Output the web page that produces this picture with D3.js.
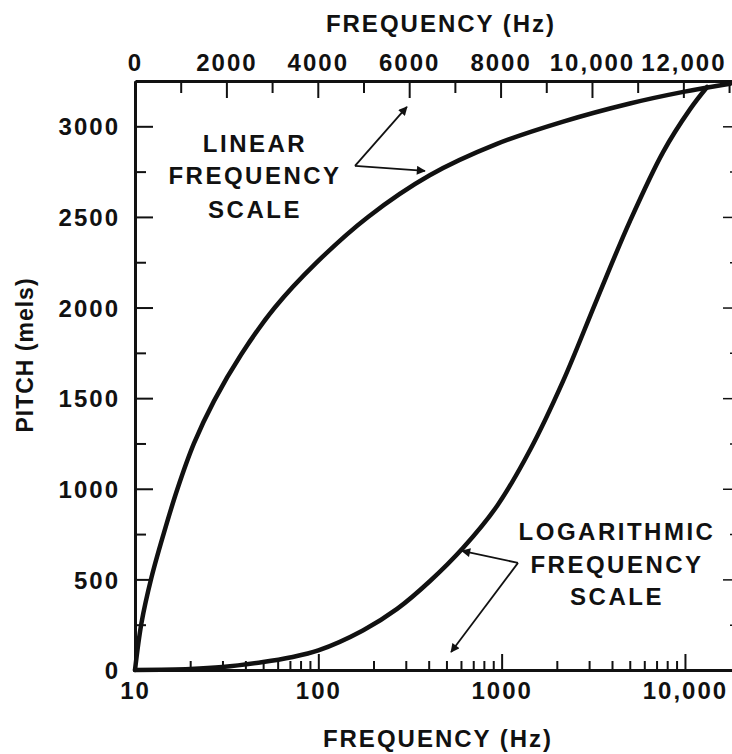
<!DOCTYPE html>
<html>
<head>
<meta charset="utf-8">
<script src="https://cdn.jsdelivr.net/npm/d3@7"></script>
<style>
  html, body { margin: 0; padding: 0; background: #fff; }
  svg { display: block; }
  text { font-family: "Liberation Sans", Arial, Helvetica, sans-serif; font-weight: bold; fill: #111; }
</style>
</head>
<body>
<svg id="chart" width="732" height="754"></svg>
<script>
// Pitch (mels) against frequency, on a linear (top) and a logarithmic (bottom) frequency axis.
const linearCurve = [
  [0, 0], [142, 260], [360, 510], [625, 750], [930, 1000], [1290, 1250],
  [1730, 1485], [2320, 1740], [3060, 2000], [3960, 2245], [5100, 2500],
  [6450, 2730], [7920, 2903], [9370, 3026], [10830, 3126], [12000, 3190], [13020, 3235]
];
const logCurve = [
  [10, 0], [20, 5], [30, 16], [50, 44], [70, 69], [100, 108], [175, 218],
  [269, 337], [407, 491], [615, 673], [944, 905], [1429, 1214], [2163, 1594],
  [3315, 2047], [5012, 2477], [7598, 2858], [10670, 3095], [13210, 3217]
];
const pitchTicks = d3.range(0, 3001, 250);
const pitchLabels = [0, 500, 1000, 1500, 2000, 2500, 3000];
const linearTicks = d3.range(0, 13001, 1000);
const linearLabels = [0, 2000, 4000, 6000, 8000, 10000, 12000];
const logMajor = [10, 100, 1000, 10000];
const logMinor = [20, 30, 40, 50, 60, 70, 80, 90, 200, 300, 400, 500, 600, 700, 800, 900,
                  2000, 3000, 4000, 5000, 6000, 7000, 8000, 9000];
const axisTitle = "FREQUENCY (Hz)";
const pitchTitle = "PITCH (mels)";
const linearNote = ["LINEAR", "FREQUENCY", "SCALE"];
const logNote = ["LOGARITHMIC", "FREQUENCY", "SCALE"];

const svg = d3.select("#chart");
const L = 135, R = 735, T = 81, B = 670;

const y = d3.scaleLinear().domain([0, 3250]).range([B, T]);
const xLin = d3.scaleLinear().domain([0, 13130]).range([L, R]);
const xLog = d3.scaleLog().domain([10, 18750]).range([L, R]);

const fmt = v => v >= 10000 ? d3.format(",")(v) : String(v);

function styleAxis(g, width) {
  g.select(".domain").attr("stroke", "#111").attr("stroke-width", width);
  g.selectAll(".tick line").attr("stroke", "#111").attr("stroke-width", 2);
  g.selectAll(".tick text").attr("font-size", 24).attr("letter-spacing", 2)
    .attr("fill", "#111").attr("font-family", "Liberation Sans, Arial, sans-serif")
    .attr("font-weight", "bold");
}

// left pitch axis, ticks pointing into the plot
const gLeft = svg.append("g").attr("transform", `translate(${L},0)`)
  .call(d3.axisLeft(y).tickValues(pitchTicks).tickSize(-18).tickSizeOuter(0).tickPadding(15)
    .tickFormat(d => pitchLabels.includes(d) ? d : ""));
styleAxis(gLeft, 3);
gLeft.selectAll(".tick line").filter(d => !pitchLabels.includes(d)).attr("x2", 11);
gLeft.selectAll(".tick text").attr("dy", "0.36em");

// right pitch ticks (spine falls just outside the frame)
const gRight = svg.append("g").attr("transform", `translate(${R},0)`)
  .call(d3.axisRight(y).tickValues(pitchTicks).tickSize(-12).tickSizeOuter(0).tickFormat(""));
styleAxis(gRight, 0);
gRight.select(".domain").remove();
gRight.selectAll(".tick line").attr("stroke-width", 1.5)
  .filter(d => !pitchLabels.includes(d)).attr("x2", -5);

// top linear frequency axis
const gTop = svg.append("g").attr("transform", `translate(0,${T})`)
  .call(d3.axisTop(xLin).tickValues(linearTicks).tickSize(-17).tickSizeOuter(0).tickPadding(10)
    .tickFormat(d => linearLabels.includes(d) ? fmt(d) : ""));
styleAxis(gTop, 3);
gTop.selectAll(".tick line").filter(d => d % 2000 !== 0).attr("y2", 12);
gTop.selectAll(".tick text").attr("y", -10);

// bottom logarithmic frequency axis
const gBot = svg.append("g").attr("transform", `translate(0,${B})`)
  .call(d3.axisBottom(xLog).tickValues(logMajor.concat(logMinor)).tickSize(-16).tickSizeOuter(0)
    .tickPadding(12).tickFormat(d => logMajor.includes(d) ? fmt(d) : ""));
styleAxis(gBot, 3);
gBot.selectAll(".tick line").filter(d => !logMajor.includes(d)).attr("y2", -9);
gBot.selectAll(".tick text").attr("y", 12).attr("dy", "0.71em");

// axis titles
svg.append("text").attr("x", 441).attr("y", 32).attr("text-anchor", "middle")
  .attr("font-size", 24).attr("letter-spacing", 2).text(axisTitle);
svg.append("text").attr("x", 438).attr("y", 747).attr("text-anchor", "middle")
  .attr("font-size", 24).attr("letter-spacing", 2).text(axisTitle);
svg.append("text").attr("transform", "translate(33,355) rotate(-90)").attr("text-anchor", "middle")
  .attr("font-size", 23).attr("letter-spacing", 1).text(pitchTitle);

// the two pitch curves
const smooth = d3.curveCatmullRom.alpha(0.5);
const lineLin = d3.line().x(d => xLin(d[0])).y(d => y(d[1])).curve(smooth);
const lineLog = d3.line().x(d => xLog(d[0])).y(d => y(d[1])).curve(smooth);
svg.append("path").datum(linearCurve).attr("d", lineLin)
  .attr("fill", "none").attr("stroke", "#111").attr("stroke-width", 4.5).attr("stroke-linecap", "round");
svg.append("path").datum(logCurve).attr("d", lineLog)
  .attr("fill", "none").attr("stroke", "#111").attr("stroke-width", 4.5).attr("stroke-linecap", "round");

// arrowheads for the callouts
svg.append("defs").append("marker").attr("id", "arrow")
  .attr("viewBox", "0 0 10 10").attr("refX", 9).attr("refY", 5)
  .attr("markerWidth", 14).attr("markerHeight", 9).attr("markerUnits", "userSpaceOnUse")
  .attr("orient", "auto")
  .append("path").attr("d", "M0,0 L10,5 L0,10 Z").attr("fill", "#111");

function pointer(vertex, tips, sx) {
  tips.forEach(t => {
    svg.append("line")
      .attr("x1", sx(vertex[0])).attr("y1", y(vertex[1]))
      .attr("x2", sx(t[0])).attr("y2", y(t[1]))
      .attr("stroke", "#111").attr("stroke-width", 1.8).attr("marker-end", "url(#arrow)");
  });
}
pointer([4814, 2782], [[5950, 3107], [6345, 2754]], xLin);
pointer([1228, 591], [[608, 657], [530, 99]], v => xLog(v));

// callout labels
function note(lines, cx, baselines) {
  lines.forEach((s, i) => {
    svg.append("text").attr("x", cx).attr("y", baselines[i]).attr("text-anchor", "middle")
      .attr("font-size", 24).attr("letter-spacing", 2.5).text(s);
  });
}
note(linearNote, 255, [152, 184, 218]);
note(logNote, 617, [540, 573, 605]);
</script>
</body>
</html>
